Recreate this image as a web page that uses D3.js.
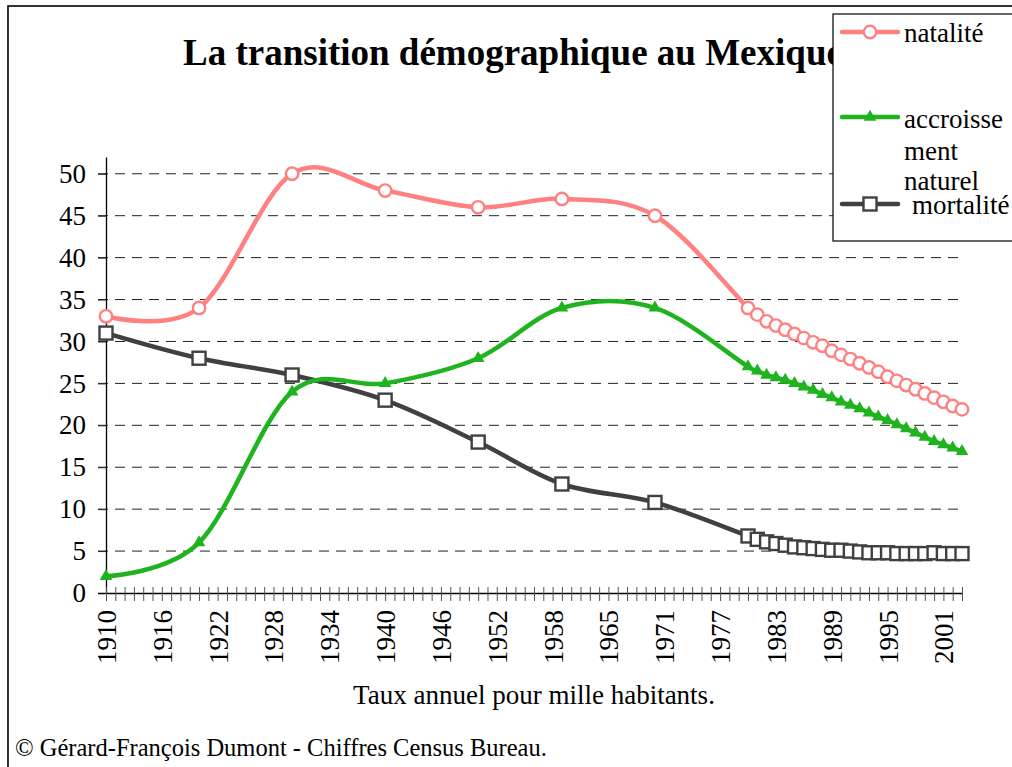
<!DOCTYPE html>
<html lang="fr">
<head>
<meta charset="utf-8">
<title>La transition démographique au Mexique</title>
<script src="https://cdn.jsdelivr.net/npm/d3@7"></script>
<style>
  * { margin: 0; padding: 0; }
  body { background: #fff; overflow: hidden; }
  svg { display: block; font-family: "Liberation Serif", "Times New Roman", serif; }
</style>
</head>
<body>
<svg id="chart" width="1012" height="767"></svg>
<script>
// category axis: every year 1910-2003 (1959 absent in the source table)
const categories = [
  1910,1911,1912,1913,1914,1915,1916,1917,1918,1919,
  1920,1921,1922,1923,1924,1925,1926,1927,1928,1929,
  1930,1931,1932,1933,1934,1935,1936,1937,1938,1939,
  1940,1941,1942,1943,1944,1945,1946,1947,1948,1949,
  1950,1951,1952,1953,1954,1955,1956,1957,1958,
  1960,1961,1962,1963,1964,1965,1966,1967,1968,1969,
  1970,1971,1972,1973,1974,1975,1976,1977,1978,1979,
  1980,1981,1982,1983,1984,1985,1986,1987,1988,1989,
  1990,1991,1992,1993,1994,1995,1996,1997,1998,1999,
  2000,2001,2002,2003
];
const tickLabels = [1910,1916,1922,1928,1934,1940,1946,1952,1958,1965,1971,1977,1983,1989,1995,2001];
const yTicks = [0,5,10,15,20,25,30,35,40,45,50];

const years = [1910,1920,1930,1940,1950,1960,1970,
  1980,1981,1982,1983,1984,1985,1986,1987,1988,1989,
  1990,1991,1992,1993,1994,1995,1996,1997,1998,1999,
  2000,2001,2002,2003];

const natalite = [33,34,50,48,46,47,45,
  34,33.2,32.4,31.9,31.4,30.9,30.4,29.9,29.5,28.9,
  28.4,27.9,27.4,26.9,26.4,25.8,25.3,24.8,24.3,23.8,
  23.3,22.8,22.3,21.9];

const accroissement = [2,6,24,25,28,34,34,
  27,26.5,26.0,25.7,25.4,25.0,24.6,24.2,23.7,23.3,
  22.8,22.4,22.0,21.5,21.0,20.6,20.1,19.6,19.1,18.6,
  18.1,17.7,17.3,16.9];

const mortalite = [31,28,26,23,18,13,10.8,
  6.8,6.4,6.1,5.9,5.7,5.5,5.4,5.3,5.2,5.1,
  5.1,5.0,4.9,4.8,4.8,4.8,4.7,4.7,4.7,4.7,
  4.8,4.7,4.7,4.7];

const PINK = "#ff8080", GREEN = "#1fb41f", DARK = "#404040";

const svg = d3.select("#chart");

const x = d3.scalePoint().domain(categories).range([106, 962]);
const y = d3.scaleLinear().domain([0, 52]).range([593, 157]);

// outer frame
svg.append("rect")
  .attr("x", 8).attr("y", 6).attr("width", 1020).attr("height", 780)
  .attr("fill", "#fff").attr("stroke", "#000").attr("stroke-width", 1.6);

// dashed gridlines
svg.append("g")
  .selectAll("line")
  .data(yTicks.filter((d) => d > 0))
  .join("line")
  .attr("x1", 98).attr("x2", 960)
  .attr("y1", (d) => y(d)).attr("y2", (d) => y(d))
  .attr("stroke", "#222").attr("stroke-width", 1)
  .attr("stroke-dasharray", "10,7");

// y axis
const yAxis = svg.append("g")
  .attr("transform", "translate(106,0)")
  .call(d3.axisLeft(y).tickValues(yTicks).tickSize(8).tickSizeOuter(0).tickPadding(12));
yAxis.select(".domain").attr("stroke", "#000").attr("stroke-width", 1.3);
yAxis.selectAll(".tick line").attr("stroke", "#222");
yAxis.selectAll(".tick text")
  .attr("font-family", "Liberation Serif, Times New Roman, serif")
  .attr("font-size", 27).attr("fill", "#000");

// x axis
const xAxis = svg.append("g")
  .attr("transform", "translate(0,593)")
  .call(d3.axisBottom(x).tickValues(categories).tickSize(8).tickSizeOuter(0)
    .tickFormat((d) => tickLabels.includes(d) ? d : ""));
xAxis.select(".domain").attr("stroke", "#000").attr("stroke-width", 1.3)
  .attr("d", "M98,0.5H962");
xAxis.selectAll(".tick line").attr("y1", -6).attr("y2", 8).attr("stroke", "#555");
xAxis.selectAll(".tick text")
  .attr("font-family", "Liberation Serif, Times New Roman, serif")
  .attr("font-size", 27).attr("fill", "#000")
  .attr("transform", "rotate(-90)")
  .attr("x", -17).attr("y", 0).attr("dy", "0.35em")
  .attr("text-anchor", "end");

// series
const series = [
  { name: "natalite", values: natalite, color: PINK, marker: "circle" },
  { name: "accroissement", values: accroissement, color: GREEN, marker: "triangle" },
  { name: "mortalite", values: mortalite, color: DARK, marker: "square" },
];

const line = d3.line()
  .x((d) => x(d[0]))
  .y((d) => y(d[1]))
  .curve(d3.curveCardinal.tension(0));

const triangle = d3.symbol().type(d3.symbolTriangle).size(70);

function drawMarker(g, kind, color) {
  if (kind === "circle") {
    g.append("circle").attr("r", 6.2)
      .attr("fill", "#fff").attr("stroke", color).attr("stroke-width", 2.4);
  } else if (kind === "square") {
    g.append("rect").attr("x", -6.5).attr("y", -6.5).attr("width", 13).attr("height", 13)
      .attr("fill", "#fff").attr("stroke", color).attr("stroke-width", 2.4);
  } else {
    g.append("path").attr("d", triangle).attr("fill", color);
  }
}

// draw lines first (mortalité under the others as in reference order)
const order = [series[2], series[1], series[0]];
order.forEach((s) => {
  const pts = years.map((yr, i) => [yr, s.values[i]]);
  svg.append("path")
    .datum(pts)
    .attr("d", line)
    .attr("fill", "none")
    .attr("stroke", s.color)
    .attr("stroke-width", 4.5)
    .attr("stroke-linejoin", "round")
    .attr("stroke-linecap", "round");
  svg.append("g")
    .selectAll("g")
    .data(pts)
    .join("g")
    .attr("transform", (d) => `translate(${x(d[0])},${y(d[1])})`)
    .each(function () { drawMarker(d3.select(this), s.marker, s.color); });
});

// title
svg.append("text")
  .attr("x", 183).attr("y", 65)
  .attr("font-size", 37).attr("font-weight", "bold")
  .text("La transition démographique au Mexique");

// legend
const legend = svg.append("g");
legend.append("rect")
  .attr("x", 833).attr("y", 14).attr("width", 200).attr("height", 227)
  .attr("fill", "#fff").attr("stroke", "#000").attr("stroke-width", 1.2);

const legendRows = [
  { s: series[0], ly: 32, lines: [{ t: "natalité", x: 904, y: 42 }] },
  { s: series[1], ly: 117, lines: [
      { t: "accroisse", x: 904, y: 128 },
      { t: "ment", x: 904, y: 160 },
      { t: "naturel", x: 904, y: 190 }] },
  { s: series[2], ly: 204, lines: [{ t: "mortalité", x: 912, y: 214 }] },
];
legendRows.forEach((r) => {
  legend.append("line")
    .attr("x1", 842).attr("x2", 898).attr("y1", r.ly).attr("y2", r.ly)
    .attr("stroke", r.s.color).attr("stroke-width", 4.5).attr("stroke-linecap", "round");
  drawMarker(legend.append("g").attr("transform", `translate(870,${r.ly})`), r.s.marker, r.s.color);
  r.lines.forEach((l) => {
    legend.append("text").attr("x", l.x).attr("y", l.y)
      .attr("font-size", 27).text(l.t);
  });
});

// axis title and source
svg.append("text")
  .attr("x", 534).attr("y", 704)
  .attr("text-anchor", "middle").attr("font-size", 27)
  .text("Taux annuel pour mille habitants.");

svg.append("text")
  .attr("x", 15).attr("y", 756)
  .attr("font-size", 24.5)
  .text("© Gérard-François Dumont - Chiffres Census Bureau.");
</script>
</body>
</html>
